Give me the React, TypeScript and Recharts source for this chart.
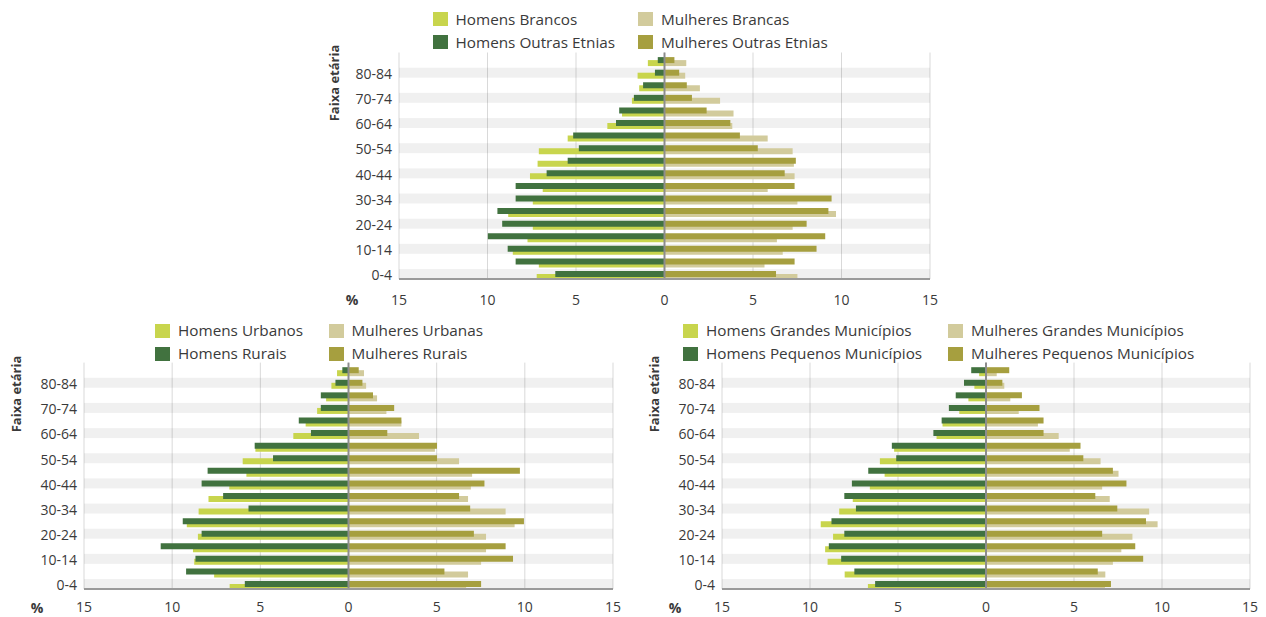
import React from 'react';
import {
  BarChart, Bar, XAxis, YAxis, CartesianGrid, ReferenceArea, ReferenceLine,
} from 'recharts';

// Age groups, bottom (youngest) to top (oldest)
const ageGroups = ['0-4', '5-9', '10-14', '15-19', '20-24', '25-29', '30-34', '35-39', '40-44',
  '45-49', '50-54', '55-59', '60-64', '65-69', '70-74', '75-79', '80-84', '85+'];
const ageTickLabels = ['0-4', '10-14', '20-24', '30-34', '40-44', '50-54', '60-64', '70-74', '80-84'];
const xTicks = [-15, -10, -5, 0, 5, 10, 15];

// Chart 1: ethnicity
const homensBrancos = [7.22, 7.1, 8.57, 7.74, 7.44, 8.83, 7.44, 6.88, 7.6, 7.17, 7.1, 5.47, 3.23, 2.4, 1.84, 1.43, 1.52, 0.94];
const homensOutrasEtnias = [6.17, 8.41, 8.86, 9.98, 9.17, 9.44, 8.41, 8.41, 6.66, 5.47, 4.84, 5.16, 2.74, 2.56, 1.73, 1.21, 0.54, 0.38];
const mulheresBrancas = [7.51, 5.65, 6.68, 6.35, 7.24, 9.69, 7.51, 5.83, 7.35, 7.31, 7.24, 5.83, 3.83, 3.9, 3.14, 2.0, 1.17, 1.23];
const mulheresOutrasEtnias = [6.3, 7.35, 8.59, 9.08, 8.03, 9.26, 9.44, 7.35, 6.79, 7.42, 5.27, 4.26, 3.72, 2.38, 1.55, 1.26, 0.83, 0.56];

// Chart 2: urban / rural
const homensUrbanos = [6.74, 7.62, 8.75, 8.82, 8.54, 9.17, 8.5, 7.94, 6.76, 5.79, 6.0, 5.28, 3.13, 2.43, 1.78, 1.27, 0.97, 0.65];
const homensRurais = [5.88, 9.21, 8.68, 10.65, 8.33, 9.4, 5.67, 7.11, 8.33, 7.99, 4.28, 5.32, 2.13, 2.82, 1.57, 1.57, 0.74, 0.35];
const mulheresUrbanas = [6.67, 6.78, 7.52, 7.8, 7.8, 9.42, 8.91, 6.78, 6.94, 7.01, 6.27, 4.9, 4.0, 3.0, 2.15, 1.62, 1.0, 0.88];
const mulheresRurais = [7.52, 5.44, 9.33, 8.91, 7.11, 9.95, 6.9, 6.27, 7.71, 9.72, 5.02, 5.02, 2.2, 3.0, 2.59, 1.39, 0.79, 0.58];

// Chart 3: municipality size
const homensGrandes = [6.71, 8.03, 9.0, 9.14, 8.69, 9.39, 8.34, 7.57, 6.6, 5.76, 6.03, 5.22, 2.81, 2.47, 1.52, 1.0, 0.66, 0.39];
const homensPequenos = [6.3, 7.48, 8.23, 8.93, 8.05, 8.78, 7.39, 8.05, 7.62, 6.69, 5.1, 5.35, 2.99, 2.52, 2.11, 1.72, 1.25, 0.84];
const mulheresGrandes = [6.76, 6.78, 7.21, 7.69, 8.32, 9.75, 9.27, 7.03, 6.6, 7.53, 6.51, 4.76, 4.13, 2.95, 1.86, 1.38, 1.04, 0.61];
const mulheresPequenos = [7.1, 6.35, 8.93, 8.48, 6.6, 9.09, 7.46, 6.21, 7.98, 7.21, 5.53, 5.37, 3.27, 3.27, 3.04, 2.04, 0.93, 1.32];

const COLORS = {
  menLight: '#c8d54d',
  menDark: '#41723f',
  womenLight: '#d2cb9c',
  womenDark: '#a69f3f',
};

const FONT = "'Open Sans', sans-serif";
const TEXT = '#3a3a3a';

type Cfg = {
  left: number; top: number; width: number; height: number;
  marginTop: number; marginRight: number; yAxisWidth: number; xAxisHeight: number; tickMargin: number;
  labels: [string, string, string, string]; // menLight, womenLight, menDark, womenDark
  values: [number[], number[], number[], number[]];
  legendCols: [number, number]; legendRows: [number, number];
  faixa: [number, number]; pct: [number, number];
};

const charts: Cfg[] = [
  {
    left: 320, top: 0, width: 640, height: 315, marginTop: 52.5, marginRight: 30, yAxisWidth: 79, xAxisHeight: 36, tickMargin: 16,
    labels: ['Homens Brancos', 'Mulheres Brancas', 'Homens Outras Etnias', 'Mulheres Outras Etnias'],
    values: [homensBrancos, mulheresBrancas, homensOutrasEtnias, mulheresOutrasEtnias],
    legendCols: [455.5, 661], legendRows: [19, 42], faixa: [334, 83], pct: [352, 300],
  },
  {
    left: 0, top: 315, width: 640, height: 302, marginTop: 47.6, marginRight: 27, yAxisWidth: 84, xAxisHeight: 28, tickMargin: 13.5,
    labels: ['Homens Urbanos', 'Mulheres Urbanas', 'Homens Rurais', 'Mulheres Rurais'],
    values: [homensUrbanos, mulheresUrbanas, homensRurais, mulheresRurais],
    legendCols: [178, 351.5], legendRows: [330.5, 353.5], faixa: [15.5, 394], pct: [37, 607.5],
  },
  {
    left: 640, top: 315, width: 626, height: 302, marginTop: 47.6, marginRight: 16, yAxisWidth: 82, xAxisHeight: 28, tickMargin: 13.5,
    labels: ['Homens Grandes Municípios', 'Mulheres Grandes Municípios', 'Homens Pequenos Municípios', 'Mulheres Pequenos Municípios'],
    values: [homensGrandes, mulheresGrandes, homensPequenos, mulheresPequenos],
    legendCols: [706, 971], legendRows: [330.5, 353.5], faixa: [654, 394], pct: [675, 607.5],
  },
];

const BandShape = (props: any) => (
  <rect x={props.x} y={props.y} width={props.width} height={10} fill="#000" fillOpacity={0.06} />
);

function Pyramid({ cfg }: { cfg: Cfg }) {
  const [mL, wL, mD, wD] = cfg.values;
  const data = ageGroups.map((age, i) => ({
    age,
    menLight: -mL[i],
    womenLight: wL[i],
    menDark: -mD[i],
    womenDark: wD[i],
  }));
  return (
    <div style={{ position: 'absolute', left: cfg.left, top: cfg.top, width: cfg.width, height: cfg.height }}>
      <BarChart
        width={cfg.width}
        height={cfg.height}
        data={data}
        layout="vertical"
        stackOffset="sign"
        barSize={6}
        barGap={-9}
        margin={{ top: cfg.marginTop, right: cfg.marginRight, bottom: 0, left: 0 }}
      >
        <CartesianGrid horizontal={false} stroke="#d9d9d9" />
        {ageTickLabels.map((a) => (
          <ReferenceArea key={a} y1={a} y2={a} shape={BandShape} ifOverflow="visible" />
        ))}
        <XAxis
          type="number"
          domain={[-15, 15]}
          ticks={xTicks}
          tickFormatter={(v: number) => String(Math.abs(v))}
          axisLine={{ stroke: '#9a9a9a', strokeWidth: 2 }}
          tickLine={false}
          tickSize={0}
          tickMargin={cfg.tickMargin}
          height={cfg.xAxisHeight}
          tick={{ fontSize: 14, fill: TEXT }}
          interval={0}
        />
        <YAxis
          type="category"
          dataKey="age"
          reversed
          ticks={ageTickLabels}
          interval={0}
          width={cfg.yAxisWidth}
          axisLine={false}
          tickLine={false}
          tickSize={0}
          tickMargin={7}
          padding={{ top: 2.6, bottom: -2.6 }}
          tick={{ fontSize: 14, fill: TEXT }}
        />
        <Bar dataKey="menLight" name={cfg.labels[0]} stackId="light" fill={COLORS.menLight} isAnimationActive={false} />
        <Bar dataKey="womenLight" name={cfg.labels[1]} stackId="light" fill={COLORS.womenLight} isAnimationActive={false} />
        <Bar dataKey="menDark" name={cfg.labels[2]} stackId="dark" fill={COLORS.menDark} isAnimationActive={false} />
        <Bar dataKey="womenDark" name={cfg.labels[3]} stackId="dark" fill={COLORS.womenDark} isAnimationActive={false} />
        <ReferenceLine x={0} stroke="#8c8c8c" strokeWidth={2} />
      </BarChart>
    </div>
  );
}

function Legend({ cfg }: { cfg: Cfg }) {
  const colors = [COLORS.menLight, COLORS.womenLight, COLORS.menDark, COLORS.womenDark];
  return (
    <>
      {cfg.labels.map((label, i) => {
        const tx = cfg.legendCols[i % 2];
        const cy = cfg.legendRows[Math.floor(i / 2)];
        return (
          <React.Fragment key={label}>
            <div style={{ position: 'absolute', left: tx - 23, top: cy - 7, width: 15, height: 14, background: colors[i] }} />
            <div style={{ position: 'absolute', left: tx, top: cy - 10.4, fontSize: 15.3, lineHeight: '20px', color: TEXT, whiteSpace: 'nowrap' }}>
              {label}
            </div>
          </React.Fragment>
        );
      })}
      <div style={{
        position: 'absolute', left: cfg.faixa[0], top: cfg.faixa[1], transform: 'translate(-50%, -50%) rotate(-90deg)',
        fontSize: 13, fontWeight: 700, color: TEXT, whiteSpace: 'nowrap', lineHeight: '16px',
      }}>Faixa etária</div>
      <div style={{
        position: 'absolute', left: cfg.pct[0], top: cfg.pct[1], transform: 'translate(-50%, -50%)',
        fontSize: 14, fontWeight: 700, color: TEXT, lineHeight: '14px',
      }}>%</div>
    </>
  );
}

export default function App() {
  return (
    <div style={{ position: 'absolute', left: 0, top: 0, width: 1266, height: 617, background: '#fff', fontFamily: FONT, overflow: 'hidden' }}>
      {charts.map((c, i) => (
        <React.Fragment key={i}>
          <Pyramid cfg={c} />
          <Legend cfg={c} />
        </React.Fragment>
      ))}
    </div>
  );
}
